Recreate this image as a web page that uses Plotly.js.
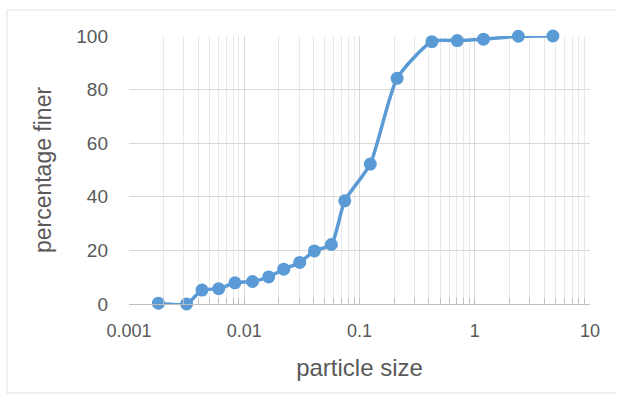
<!DOCTYPE html>
<html>
<head>
<meta charset="utf-8">
<script src="https://cdn.plot.ly/plotly-3.0.1.min.js"></script>
<style>
  html, body { margin: 0; padding: 0; background: #ffffff; }
  #chart { width: 617px; height: 394px; }
</style>
</head>
<body>
<div id="chart"></div>
<script>
// Particle size (mm) and percentage finer
const particleSize = [0.0018, 0.00316, 0.0043, 0.006, 0.0083, 0.0118, 0.0163, 0.022, 0.0303, 0.0406, 0.057, 0.0745, 0.124, 0.212, 0.425, 0.705, 1.19, 2.39, 4.77];
const percentFiner = [0.3, 0.0, 5.2, 5.7, 7.9, 8.4, 10.1, 13.0, 15.5, 19.8, 22.2, 38.5, 52.2, 84.2, 97.9, 98.3, 98.8, 99.9, 100.0];
const xTickVals = [0.001, 0.01, 0.1, 1, 10];
const xTickText = ['0.001', '0.01', '0.1', '1', '10'];
const yTickVals = [0, 20, 40, 60, 80, 100];
const xTitle = 'particle size';
const yTitle = 'percentage finer';

const textColor = '#595959';
const seriesColor = '#5b9bd5';

const trace = {
  x: particleSize,
  y: percentFiner,
  type: 'scatter',
  mode: 'lines+markers',
  line: { color: seriesColor, width: 3.5, shape: 'spline', smoothing: 0.6 },
  marker: { color: seriesColor, size: 13 },
  cliponaxis: false,
  hoverinfo: 'x+y'
};

const layout = {
  width: 617,
  height: 394,
  margin: { l: 129, r: 27, t: 36, b: 90, pad: 0 },
  paper_bgcolor: '#ffffff',
  plot_bgcolor: '#ffffff',
  showlegend: false,
  font: { family: '"Liberation Sans", Arial, sans-serif', color: textColor },
  xaxis: {
    type: 'log',
    range: [-3, 1],
    tickvals: xTickVals,
    ticktext: xTickText,
    tickfont: { size: 18, color: textColor },
    ticks: 'inside',
    ticklen: 6,
    tickcolor: '#bfbfbf',
    ticklabelstandoff: 10,
    showgrid: true,
    gridcolor: '#d9d9d9',
    gridwidth: 1,
    showline: true,
    linecolor: '#bfbfbf',
    linewidth: 1,
    zeroline: false,
    minor: {
      dtick: 'D1',
      ticks: 'inside',
      ticklen: 6,
      tickcolor: '#bfbfbf',
      showgrid: true,
      gridcolor: '#e9e9e9',
      gridwidth: 1
    },
    title: { text: xTitle, font: { size: 24, color: textColor }, standoff: 19 },
    automargin: false
  },
  yaxis: {
    range: [0, 100],
    tickvals: yTickVals,
    tickfont: { size: 19, color: textColor },
    ticks: '',
    ticklabelstandoff: 20,
    showgrid: true,
    gridcolor: '#d9d9d9',
    gridwidth: 1,
    showline: false,
    zeroline: false,
    title: { text: yTitle, font: { size: 23, color: textColor }, standoff: 18 },
    automargin: false
  },
  shapes: [
    {
      type: 'rect', xref: 'paper', yref: 'paper',
      x0: -0.2646, x1: 1.08, y0: -0.332, y1: 1.097,
      line: { color: '#e3e3e3', width: 1 },
      fillcolor: 'rgba(0,0,0,0)',
      layer: 'below'
    }
  ]
};

Plotly.newPlot('chart', [trace], layout, { displayModeBar: false, staticPlot: true });
</script>
</body>
</html>
